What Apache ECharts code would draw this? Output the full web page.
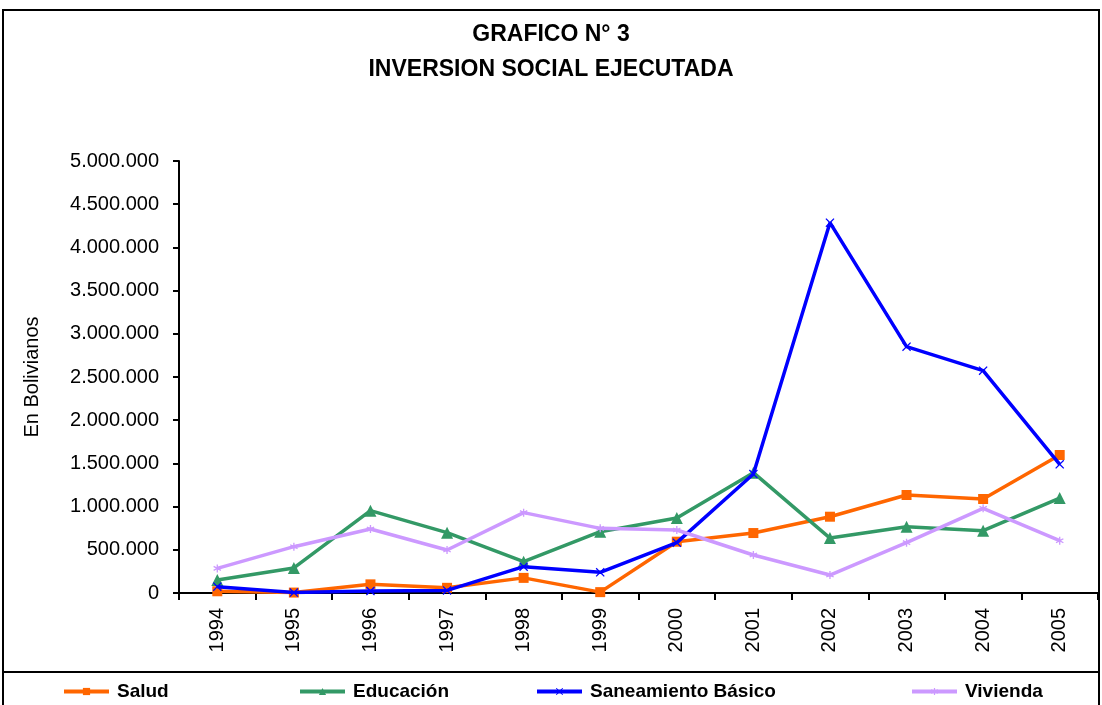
<!DOCTYPE html>
<html>
<head>
<meta charset="utf-8">
<script src="https://cdn.jsdelivr.net/npm/echarts@6/dist/echarts.min.js"></script>
<style>
html,body{margin:0;padding:0;background:#fff;}
#main{width:1102px;height:705px;}
</style>
</head>
<body>
<div id="main"></div>
<script>
var years = ['1994','1995','1996','1997','1998','1999','2000','2001','2002','2003','2004','2005'];
var salud = [20000,5000,100000,60000,175000,10000,594000,694000,883000,1134000,1088000,1597000];
var educacion = [150000,290000,953000,698000,362000,710000,868000,1393000,636000,768000,721000,1099000];
var saneamiento = [73000,5000,23000,30000,305000,239000,583000,1377000,4286000,2851000,2573000,1489000];
var vivienda = [285000,536000,741000,498000,930000,748000,729000,440000,208000,583000,980000,605000];
var seriesNames = ['Salud','Educación','Saneamiento Básico','Vivienda'];

var fontfam = '"Liberation Sans", Arial, sans-serif',
	lwidth = 3.5, labelsize = 20,
	legX = [57, 293, 530, 905];

var xMark = 'path://M0,1L1,0L5,4L9,0L10,1L6,5L10,9L9,10L5,6L1,10L0,9L4,5Z';
var starMark = 'path://M4.2,0H5.8V3.6L9,1.8L9.8,3.2L6.6,5L9.8,6.8L9,8.2L5.8,6.4V10H4.2V6.4L1,8.2L0.2,6.8L3.4,5L0.2,3.2L1,1.8L4.2,3.6Z';

function fmt(v){
	return String(v).replace(/\B(?=(\d{3})+(?!\d))/g, '.');
}

function initChart(){
	var myChart = echarts.init(document.getElementById('main'));
	var colors = ['#ff6600','#339966','#0000ff','#cc99ff'];
	var symbols = ['rect','triangle',xMark,starMark];
	var sizes = [10,12,9,8];
	var datas = [salud,educacion,saneamiento,vivienda];

	var legends = [];
	var series = [];
	for (var i = 0; i < 4; i++) {
		legends.push({
			data: [seriesNames[i]],
			left: legX[i],
			top: 677,
			itemWidth: 45,
			itemHeight: 9,
			itemGap: 0,
			lineStyle: {width: 4},
			textStyle: {fontFamily: fontfam, fontSize: 19, fontWeight: 'bold', color: '#000', padding: [0,0,0,3]}
		});
		series.push({
			name: seriesNames[i],
			type: 'line',
			data: datas[i],
			color: colors[i],
			symbol: symbols[i],
			symbolSize: sizes[i],
			lineStyle: {width: lwidth},
			z: 3 + i
		});
	}

	var option = {
		animation: false,//关闭动画效果
		backgroundColor: '#fff',
		title: {
			text: 'GRAFICO N° 3\nINVERSION SOCIAL EJECUTADA',
			left: 'center',
			top: 12,
			textStyle: {
				fontFamily: fontfam,
				fontSize: 23,
				fontWeight: 'bold',
				color: '#000',
				lineHeight: 35
			}
		},
		graphic: [
			{type: 'rect', shape: {x: 3, y: 10, width: 1096, height: 700}, style: {fill: 'none', stroke: '#000', lineWidth: 2}},
			{type: 'line', shape: {x1: 3, y1: 672, x2: 1099, y2: 672}, style: {stroke: '#000', lineWidth: 2}}
		],
		legend: legends,
		grid: {left: 179, right: 4, top: 161, bottom: 112},
		xAxis: {
			type: 'category',
			data: years,
			boundaryGap: true,
			axisLine: {lineStyle: {color: '#000', width: 2}},
			axisTick: {show: true, length: 7, lineStyle: {color: '#000', width: 2}},
			axisLabel: {
				rotate: 90,
				margin: 15,
				fontFamily: fontfam,
				fontSize: labelsize,
				color: '#000'
			}
		},
		yAxis: {
			type: 'value',
			min: 0,
			max: 5000000,
			interval: 500000,
			name: 'En Bolivianos',
			nameLocation: 'middle',
			nameGap: 137,
			nameTextStyle: {fontFamily: fontfam, fontSize: labelsize, color: '#000'},
			axisLine: {show: true, lineStyle: {color: '#000', width: 2}},
			axisTick: {show: true, length: 6, lineStyle: {color: '#000', width: 2}},
			splitLine: {show: false},
			axisLabel: {
				margin: 20,
				fontFamily: fontfam,
				fontSize: labelsize,
				color: '#000',
				formatter: fmt
			}
		},
		series: series
	};
	myChart.setOption(option);
}
initChart();
</script>
</body>
</html>
